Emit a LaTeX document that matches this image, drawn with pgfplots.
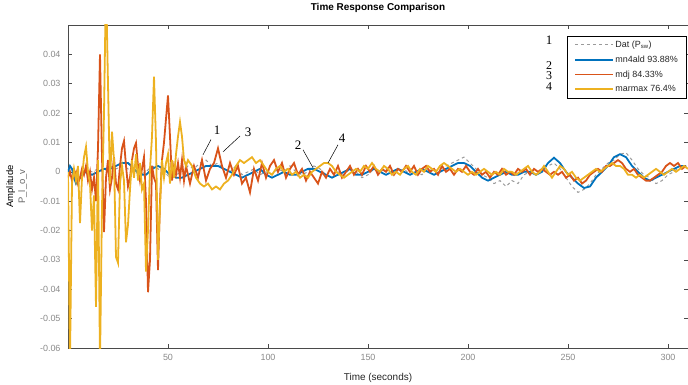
\documentclass[border=0pt]{standalone}
\usepackage{pgfplots}
\pgfplotsset{compat=1.18}
\usepackage{pgfplotstable}
\usepackage{fontspec}
\setmainfont{Liberation Sans}
\newfontfamily\numserif{Liberation Serif}
\definecolor{mblue}{HTML}{0072BD}
\definecolor{mred}{HTML}{D95319}
\definecolor{myel}{HTML}{EDB120}
\definecolor{mgrey}{HTML}{9A9A9A}
\definecolor{ticklab}{HTML}{8A8A8A}
\definecolor{axline}{HTML}{4A4A4A}

\pgfplotstableread{
t y
0 0.001
3 -0.001
6 -0.002
9 0.001
12 0.000
15 0.001
18 0.000
21 0.002
24 0.001
27 0.002
30 0.001
33 0.000
36 -0.001
39 0.000
42 0.002
45 0.001
48 0.000
51 -0.002
54 -0.001
57 0.000
60 0.002
63 0.001
66 0.003
69 0.004
72 0.002
75 0.003
78 0.001
81 0.000
84 0.002
87 -0.001
90 0.000
93 0.001
96 -0.001
99 0.000
102 -0.001
105 0.001
108 0.000
111 0.002
114 0.000
117 -0.001
120 0.000
123 0.002
126 0.001
129 -0.001
132 -0.002
135 0.000
138 -0.001
141 0.001
144 0.000
147 -0.002
150 -0.001
153 0.001
156 0.000
159 0.001
162 -0.001
165 0.000
168 0.001
171 -0.001
174 0.000
177 -0.001
180 0.001
183 0.000
186 0.001
189 0.002
192 0.003
195 0.004
198 0.005
201 0.003
204 0.001
207 -0.001
210 -0.002
213 -0.004
216 -0.003
219 -0.005
222 -0.003
225 -0.004
228 -0.001
231 0.000
234 -0.001
237 0.001
240 0.002
243 0.003
246 0.001
249 -0.002
252 -0.005
255 -0.007
258 -0.006
261 -0.004
264 -0.001
267 0.001
270 0.003
273 0.004
276 0.006
279 0.0065
282 0.004
285 0.001
288 -0.001
291 -0.002
294 -0.004
297 -0.003
300 -0.001
303 0.000
306 0.002
309 0.002
}\datdat

\pgfplotstableread{
t y
0 0.000
1 0.002
2 0.001
3 -0.002
4 -0.004
5 -0.003
7 -0.001
9 0.000
12 -0.001
15 0.000
18 0.001
21 0.001
24 0.002
27 0.003
30 0.003
33 0.001
36 -0.001
39 -0.001
42 0.001
45 0.002
48 0.001
51 -0.001
54 -0.002
57 -0.002
60 -0.001
63 0.000
66 0.001
69 0.002
72 0.002
75 0.002
78 0.001
81 0.000
84 -0.001
87 -0.002
90 -0.001
93 0.000
96 0.001
99 -0.001
102 -0.002
105 -0.001
108 0.000
111 -0.001
114 -0.001
117 0.000
120 0.001
123 0.001
126 0.000
129 -0.001
132 -0.002
135 -0.001
138 0.000
141 0.001
144 -0.001
147 -0.001
150 0.000
153 0.001
156 0.000
159 -0.001
162 0.000
165 0.001
168 0.000
171 -0.001
174 0.000
177 0.001
180 0.000
183 -0.001
186 0.000
189 0.001
192 0.002
195 0.003
198 0.003
201 0.002
204 0.000
207 -0.002
210 -0.003
213 -0.002
216 -0.001
219 0.000
222 -0.001
225 -0.001
228 0.000
231 0.000
234 -0.001
237 0.000
240 0.003
243 0.0048
246 0.003
249 0.000
252 -0.002
255 -0.004
258 -0.0055
261 -0.005
264 -0.002
267 0.000
270 0.002
273 0.005
276 0.006
279 0.005
282 0.002
285 0.000
288 -0.002
291 -0.003
294 -0.002
297 -0.001
300 0.000
303 0.001
306 0.002
309 0.002
}\datblue

\pgfplotstableread{
t y
0 -0.002
1 0.000
2 -0.003
3 -0.001
4 0.000
5 -0.004
6 -0.002
7 0.001
8 -0.001
9 0.002
10 -0.003
11 0.000
12 -0.006
13 -0.002
14 -0.010
15 0.008
16 0.040
17 0.005
18 -0.0205
19 -0.002
20 0.004
21 -0.006
22 -0.002
23 0.005
24 -0.004
25 -0.006
26 0.002
27 0.008
28 0.0105
29 0.002
30 -0.005
31 -0.002
32 0.004
33 0.008
34 0.0098
35 0.002
36 -0.003
37 0.001
38 0.005
39 -0.010
40 -0.041
41 -0.030
42 0.002
43 -0.002
44 -0.004
45 -0.0335
46 -0.010
47 0.004
48 0.010
49 0.018
50 0.026
51 0.012
52 -0.003
53 0.002
54 -0.001
55 0.003
56 -0.002
57 0.004
58 -0.003
59 0.002
61 -0.004
63 0.002
65 -0.002
67 0.004
69 -0.003
71 0.001
73 0.003
75 0.008
77 0.002
79 -0.002
81 0.003
83 -0.001
85 0.002
87 -0.004
89 -0.002
91 -0.007
93 0.001
95 -0.003
97 0.003
99 -0.002
101 0.002
103 0.004
105 0.000
107 0.003
109 -0.002
111 0.001
113 0.003
115 -0.001
117 0.001
119 -0.003
121 0.000
123 -0.002
125 -0.004
127 0.000
129 -0.002
131 0.001
133 -0.001
135 0.002
137 -0.002
139 0.000
141 0.002
143 -0.001
145 0.001
147 -0.001
149 0.002
151 0.000
153 0.002
155 -0.001
157 0.001
159 0.000
161 0.002
163 -0.001
165 0.001
167 0.000
169 0.002
171 0.000
173 0.002
175 -0.001
177 0.001
179 0.002
181 0.000
183 0.001
185 -0.001
187 0.002
189 0.000
191 0.001
193 -0.001
195 0.001
197 0.000
199 0.002
201 0.000
203 -0.001
205 0.001
207 -0.001
209 0.000
211 -0.002
213 0.000
215 -0.001
217 0.001
219 -0.001
221 0.000
223 -0.001
225 0.001
227 0.000
229 0.001
231 -0.001
233 0.001
235 0.000
237 0.001
239 0.000
241 -0.001
243 0.000
245 -0.001
247 0.000
249 -0.002
251 -0.001
253 -0.003
255 -0.002
257 -0.004
259 -0.003
261 -0.001
263 0.000
265 0.001
267 0.000
269 0.002
271 0.002
273 0.003
275 0.004
277 0.003
279 0.001
281 0.000
283 0.001
285 -0.001
287 -0.002
289 -0.003
291 -0.003
293 -0.002
295 -0.001
297 0.000
299 0.002
301 0.003
303 0.002
305 0.003
307 0.001
309 0.002
}\datred

\pgfplotstableread{
t y
0 0.000
1 -0.065
2 -0.004
3 0.001
4 -0.003
5 0.002
6 -0.0175
7 -0.002
8 0.005
9 0.0085
10 0.000
11 -0.004
12 -0.020
13 -0.008
14 -0.046
15 0.004
16 -0.065
17 -0.012
18 0.020
19 0.065
20 0.030
21 -0.004
22 0.0137
23 0.004
24 -0.029
25 -0.031
26 -0.004
27 0.002
28 -0.003
29 -0.024
30 -0.018
31 -0.006
32 0.004
33 -0.002
34 0.006
35 -0.003
36 0.003
37 -0.006
38 -0.004
39 -0.034
40 -0.020
41 0.001
42 0.012
43 0.0324
44 0.010
45 -0.030
46 -0.012
47 0.004
48 -0.002
49 0.003
50 0.006
51 -0.004
52 0.004
53 -0.002
54 0.006
55 0.012
56 0.017
57 0.012
58 0.004
59 0.002
60 0.004
62 0.002
64 -0.002
66 -0.004
68 -0.005
70 -0.004
72 -0.006
74 -0.005
76 -0.006
78 -0.004
80 -0.003
82 -0.001
84 0.002
86 0.004
88 0.003
90 0.004
92 0.005
94 0.003
96 0.004
98 0.002
100 0.000
102 -0.001
104 0.001
106 0.002
108 0.000
110 0.001
112 -0.001
114 0.000
116 -0.002
118 -0.001
120 -0.002
122 0.000
124 0.001
126 0.002
128 0.003
130 0.003
132 0.002
134 0.000
136 -0.001
138 -0.002
140 -0.001
142 0.000
144 0.001
146 0.000
148 0.002
150 0.001
152 0.003
154 0.001
156 0.000
158 0.002
160 0.001
162 -0.001
164 0.000
166 -0.001
168 0.001
170 0.002
172 0.000
174 -0.001
176 0.001
178 0.000
180 0.002
182 0.001
184 0.000
186 0.002
188 0.003
190 0.002
192 0.001
194 0.000
196 0.001
198 0.000
200 -0.001
202 0.000
204 -0.001
206 0.000
208 0.001
210 0.000
212 -0.001
214 0.000
216 -0.001
218 0.001
220 0.000
222 0.000
224 -0.001
226 0.000
228 0.001
230 0.002
232 0.000
234 -0.001
236 0.000
238 0.002
240 0.000
242 -0.002
244 0.000
246 0.002
248 0.001
250 -0.001
252 0.000
254 -0.002
256 -0.003
258 -0.002
260 -0.001
262 0.000
264 0.001
266 0.000
268 0.001
270 0.002
272 0.003
274 0.002
276 0.002
278 0.001
280 -0.001
282 -0.001
284 -0.002
286 -0.001
288 -0.002
290 -0.001
292 0.000
294 0.001
296 0.000
298 -0.001
300 0.000
302 0.001
304 0.000
306 0.001
308 0.002
310 0.001
}\datyel

\begin{document}
\begin{tikzpicture}
\useasboundingbox (-68bp,-37bp) rectangle (620bp,348bp);
\begin{axis}[
  at={(0,0)}, anchor=south west,
  scale only axis, width=620bp, height=323bp,
  xmin=0, xmax=310, ymin=-0.06, ymax=0.05,
  xtick={50,100,150,200,250,300},
  ytick={-0.06,-0.05,-0.04,-0.03,-0.02,-0.01,0,0.01,0.02,0.03,0.04},
  scaled y ticks=false,
  yticklabel style={/pgf/number format/fixed,/pgf/number format/precision=2, xshift=-4bp},
  /pgf/number format/assume math mode=true,
  tick align=inside, tick pos=both,
  major tick length=4bp,
  axis line style={axline, line width=0.7pt},
  every tick/.style={axline, line width=0.5pt},
  ticklabel style={font=\fontsize{9}{10}\selectfont, text=ticklab},
  xticklabel style={yshift=-3bp},
  title={\textbf{Time Response Comparison}},
  title style={font=\fontsize{10}{12}\selectfont, at={(axis description cs:0.5,1)}, anchor=south, yshift=6bp, inner sep=0pt},
  xlabel={Time (seconds)},
  xlabel style={font=\fontsize{10}{12}\selectfont, text=black!85, at={(axis description cs:0.5,0)}, anchor=center, yshift=-30bp},
  ylabel={Amplitude\\{\color{black!60}P\_l\_o\_v}},
  ylabel style={font=\fontsize{9.5}{12}\selectfont, align=center, at={(axis description cs:-0.083,0.5)}, anchor=center},
  legend style={at={(axis description cs:0.997,0.966)}, anchor=north east, draw=black,
     font=\fontsize{9}{10}\selectfont, inner xsep=7pt, inner ysep=3.5pt, row sep=4.5pt,
     nodes={inner sep=1.2pt, text=black!85}},
  legend cell align=left,
  legend image code/.code={\draw (0bp,0bp) -- (38bp,0bp);},
  clip=true,
]
\addplot[mgrey, dashed, line width=1pt] table[x=t,y=y] {\datdat};
\addlegendentry{Dat (P$_{\mathrm{sw}}$)}
\addplot[mblue, line width=1.8pt] table[x=t,y=y] {\datblue};
\addlegendentry{mn4ald 93.88\%}
\addplot[mred, line width=1.8pt] table[x=t,y=y] {\datred};
\addlegendentry{mdj 84.33\%}
\addplot[myel, line width=1.8pt] table[x=t,y=y] {\datyel};
\addlegendentry{marmax 76.4\%}

\draw[black, line width=0.5pt] (axis cs:71.5,0.0110) -- (axis cs:67.5,0.0058);
\node[font=\numserif\fontsize{13}{13}\selectfont] at (axis cs:74.5,0.0143) {1};
\draw[black, line width=0.5pt] (axis cs:86,0.0122) -- (axis cs:77.5,0.0068);
\node[font=\numserif\fontsize{13}{13}\selectfont] at (axis cs:90,0.0135) {3};
\draw[black, line width=0.5pt] (axis cs:117.5,0.0075) -- (axis cs:122.5,0.0014);
\node[font=\numserif\fontsize{13}{13}\selectfont] at (axis cs:115,0.0092) {2};
\draw[black, line width=0.5pt] (axis cs:135,0.0092) -- (axis cs:130,0.0030);
\node[font=\numserif\fontsize{13}{13}\selectfont] at (axis cs:137,0.0116) {4};

\node[font=\numserif\fontsize{13}{13}\selectfont] at (axis cs:240.5,0.0449) {1};
\node[font=\numserif\fontsize{12}{12}\selectfont] at (axis cs:240.5,0.0362) {2};
\node[font=\numserif\fontsize{12}{12}\selectfont] at (axis cs:240.5,0.0328) {3};
\node[font=\numserif\fontsize{12}{12}\selectfont] at (axis cs:240.5,0.0290) {4};
\end{axis}
\end{tikzpicture}
\end{document}
